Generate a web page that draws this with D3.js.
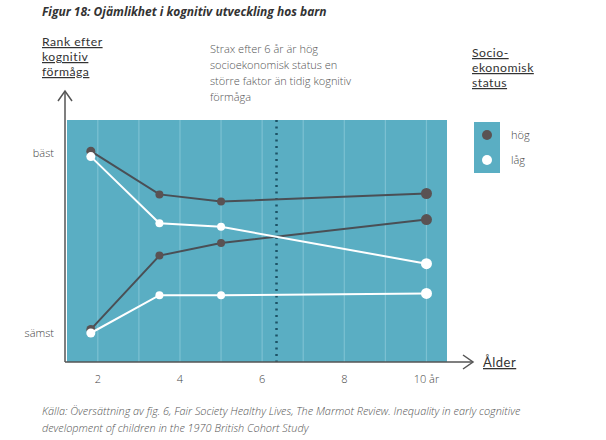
<!DOCTYPE html>
<html><head><meta charset="utf-8">
<script src="https://cdn.jsdelivr.net/npm/d3@7"></script>
<style>
html,body{margin:0;padding:0;background:#fff;}
svg{display:block;font-family:"Open Sans","Noto Sans",sans-serif;}
</style></head>
<body>
<svg id="c" width="606" height="440"></svg>
<script>
// ---- data ----
const ages = [1.83, 3.5, 5, 10];            // age in years
const hogTop = [101, 77, 73, 77.5];         // high SES, high early rank
const lagTop = [98, 61, 59, 38.5];          // low SES, high early rank
const hogBottom = [2, 43, 50, 63];          // high SES, low early rank
const lagBottom = [0, 21, 21, 22];          // low SES, low early rank
const xTicks = [2, 4, 6, 8, 10];
const xTickLabels = ["2", "4", "6", "8", "10 år"];
const gridYears = [2, 3, 4, 5, 6, 7, 8, 9, 10];
const yLabels = [{v: 100, t: "bäst"}, {v: 0, t: "sämst"}];
const markerYear = 6.35;

const svg = d3.select("#c");
const x = d3.scaleLinear().domain([1.25, 10.5]).range([67, 447]);
const y = d3.scaleLinear().domain([0, 100]).range([333, 153]);
const plotTop = 120, plotBottom = 362;

const bg = "#5aaec3", grid = "#7cc1d2", dark = "#4a4f55", darkDot = "#5a5253", axisC = "#555";

// title
svg.append("text").attr("x", 42).attr("y", 16)
  .attr("font-size", 12).attr("font-weight", 700).attr("font-style", "italic")
  .attr("fill", "#333").text("Figur 18: Ojämlikhet i kognitiv utveckling hos barn");

// plot background
svg.append("rect").attr("x", x(1.25)).attr("y", plotTop)
  .attr("width", x(10.5) - x(1.25)).attr("height", plotBottom - plotTop).attr("fill", bg);

// gridlines
svg.append("g").selectAll("line").data(gridYears).join("line")
  .attr("x1", d => x(d)).attr("x2", d => x(d)).attr("y1", plotTop).attr("y2", plotBottom)
  .attr("stroke", grid).attr("stroke-width", 1.2);

// dotted marker line
svg.append("line").attr("x1", x(markerYear)).attr("x2", x(markerYear))
  .attr("y1", plotTop).attr("y2", plotBottom)
  .attr("stroke", "#1d5366").attr("stroke-width", 2.5).attr("stroke-dasharray", "2,4.5");

// axes
svg.append("line").attr("x1", 65).attr("x2", 65).attr("y1", 91).attr("y2", plotBottom)
  .attr("stroke", axisC).attr("stroke-width", 1.5);
svg.append("path").attr("d", "M58,101 L65,91 L72,101").attr("fill", "none")
  .attr("stroke", axisC).attr("stroke-width", 1.5);
svg.append("line").attr("x1", 65).attr("x2", 473).attr("y1", plotBottom).attr("y2", plotBottom)
  .attr("stroke", axisC).attr("stroke-width", 1.5);
svg.append("path").attr("d", `M463,${plotBottom-7} L473,${plotBottom} L463,${plotBottom+7}`).attr("fill", "none")
  .attr("stroke", axisC).attr("stroke-width", 1.5);

// x tick labels
svg.append("g").selectAll("text").data(xTicks).join("text")
  .attr("x", d => x(d)).attr("y", 383).attr("text-anchor", "middle")
  .attr("font-size", 11).attr("fill", "#444").attr("font-weight", 300)
  .text((d, i) => xTickLabels[i]);

// y labels
svg.append("g").selectAll("text").data(yLabels).join("text")
  .attr("x", 54).attr("y", d => y(d.v) + 4).attr("text-anchor", "end")
  .attr("font-size", 11).attr("fill", "#444").attr("font-weight", 300)
  .text(d => d.t);

// multi-line underlined titles (separate text elements)
function titleLines(lines, x0, y0, dy) {
  lines.forEach((t, i) =>
    svg.append("text").attr("x", x0).attr("y", y0 + i * dy)
      .attr("font-family", "Lato, 'Open Sans', sans-serif")
      .attr("font-size", 12.2).attr("fill", "#333")
      .attr("text-decoration", "underline").attr("letter-spacing", 0.5).text(t));
}
titleLines(["Rank efter", "kognitiv", "förmåga"], 42, 46, 15);
titleLines(["Socio-", "ekonomisk", "status"], 472, 57, 15);

// annotation
const an = svg.append("text").attr("font-size", 11).attr("fill", "#555").attr("font-weight", 300);
["Strax efter 6 år är hög", "socioekonomisk status en", "större faktor än tidig kognitiv", "förmåga"].forEach((t, i) =>
  an.append("tspan").attr("x", 210).attr("y", 53 + i * 16).text(t));

// Ålder
svg.append("text").attr("x", 483).attr("y", 367).attr("font-size", 13)
  .attr("font-family", "Lato, 'Open Sans', sans-serif")
  .attr("fill", "#333").attr("text-decoration", "underline").attr("letter-spacing", 0.5).text("Ålder");

// legend
svg.append("rect").attr("x", 474).attr("y", 122).attr("width", 26).attr("height", 51).attr("fill", bg);
svg.append("circle").attr("cx", 487).attr("cy", 135).attr("r", 5).attr("fill", darkDot);
svg.append("circle").attr("cx", 487).attr("cy", 160).attr("r", 5).attr("fill", "#fff");
svg.append("text").attr("x", 511).attr("y", 139).attr("font-size", 11).attr("fill", "#444").attr("font-weight", 300).text("hög");
svg.append("text").attr("x", 511).attr("y", 164).attr("font-size", 11).attr("fill", "#444").attr("font-weight", 300).text("låg");

// series
const line = d3.line().x((d, i) => x(ages[i])).y(d => y(d));
const radius = [4.5, 4, 4, 5.5];
function drawSeries(vals, stroke, fill) {
  svg.append("path").datum(vals).attr("d", line).attr("fill", "none")
    .attr("stroke", stroke).attr("stroke-width", 2);
  svg.append("g").selectAll("circle").data(vals).join("circle")
    .attr("cx", (d, i) => x(ages[i])).attr("cy", d => y(d)).attr("r", (d, i) => radius[i])
    .attr("fill", fill);
}
drawSeries(hogTop, dark, darkDot);
drawSeries(hogBottom, dark, darkDot);
drawSeries(lagTop, "#fff", "#fff");
drawSeries(lagBottom, "#fff", "#fff");

// source
const src = svg.append("text").attr("font-size", 10.9).attr("font-style", "italic").attr("fill", "#555").attr("font-weight", 300);
["Källa: Översättning av fig. 6, Fair Society Healthy Lives, The Marmot Review. Inequality in early cognitive",
 "development of children in the 1970 British Cohort Study"].forEach((t, i) =>
  src.append("tspan").attr("x", 42).attr("y", 415 + i * 17).text(t));
</script>
</body></html>
